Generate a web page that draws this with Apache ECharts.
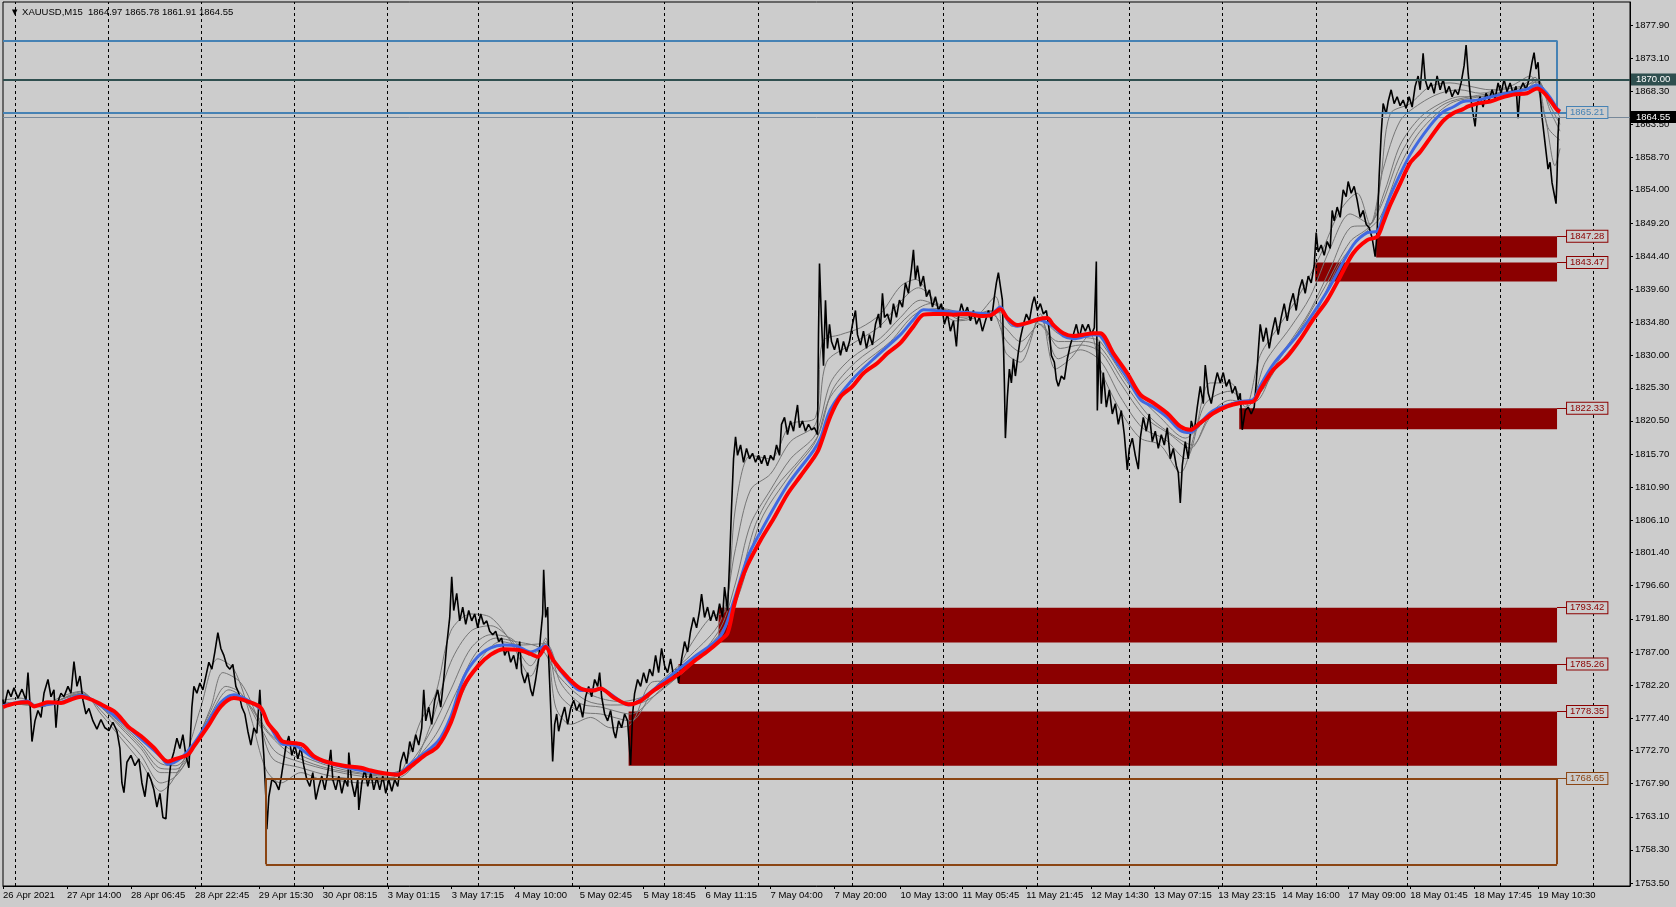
<!DOCTYPE html>
<html><head><meta charset="utf-8">
<script src="https://cdn.jsdelivr.net/npm/echarts@6/dist/echarts.min.js"></script>
<style>html,body{margin:0;padding:0;background:#cccccc;}#c{width:1676px;height:907px;}</style>
</head><body><div id="c"></div>
<script>
// ---------- data ----------
const titleText = 'XAUUSD,M15  1864.97 1865.78 1861.91 1864.55';
const priceTickLabels = ['1877.90','1873.10','1868.30','1863.50','1858.70','1854.00','1849.20','1844.40','1839.60','1834.80','1830.00','1825.30','1820.50','1815.70','1810.90','1806.10','1801.40','1796.60','1791.80','1787.00','1782.20','1777.40','1772.70','1767.90','1763.10','1758.30','1753.50'];
const timeLabels = ['26 Apr 2021','27 Apr 14:00','28 Apr 06:45','28 Apr 22:45','29 Apr 15:30','30 Apr 08:15','3 May 01:15','3 May 17:15','4 May 10:00','5 May 02:45','5 May 18:45','6 May 11:15','7 May 04:00','7 May 20:00','10 May 13:00','11 May 05:45','11 May 21:45','12 May 14:30','13 May 07:15','13 May 23:15','14 May 16:00','17 May 09:00','18 May 01:45','18 May 17:45','19 May 10:30'];
// bar index of each time label (1 bar = 15 min)
const timeLabelBars = [2,66,130,194,258,322,387,451,514,579,643,705,770,834,900,962,1026,1091,1154,1218,1282,1348,1410,1474,1538];
const daySeparatorBars = [14,107,200,293,386,478,572,664,758,852,943,1037,1129,1222,1316,1407,1500,1593];

// [bar, price]
const priceTrace = [[2,1780.1],[3,1779.0],[7,1781.5],[10,1780.5],[13,1781.8],[17,1780.3],[21,1781.6],[25,1780.0],[27,1784.0],[29,1779.5],[31,1774.0],[34,1777.0],[37,1778.5],[40,1777.5],[43,1781.0],[47,1783.0],[50,1780.5],[53,1781.5],[55,1776.0],[57,1779.8],[60,1781.0],[63,1780.5],[67,1782.0],[70,1781.0],[73,1785.6],[76,1782.0],[79,1783.5],[82,1780.0],[85,1778.0],[88,1778.8],[92,1777.0],[96,1775.8],[100,1777.2],[104,1776.0],[108,1775.6],[112,1776.8],[116,1775.5],[119,1773.0],[121,1768.0],[123,1766.6],[126,1771.0],[130,1772.0],[134,1770.5],[138,1771.5],[141,1768.0],[144,1766.0],[147,1769.5],[150,1768.5],[153,1767.0],[156,1764.5],[159,1766.5],[162,1763.0],[165,1762.8],[167,1767.0],[170,1771.0],[173,1772.5],[176,1774.5],[179,1773.0],[182,1775.0],[185,1772.0],[188,1770.2],[191,1779.0],[193,1782.0],[196,1781.0],[199,1782.5],[202,1781.5],[205,1783.5],[208,1785.5],[211,1784.5],[214,1787.0],[217,1789.8],[220,1787.5],[223,1786.5],[226,1785.0],[229,1784.5],[232,1785.2],[235,1782.0],[238,1781.0],[241,1779.0],[244,1778.0],[247,1775.5],[250,1773.5],[253,1776.0],[256,1775.2],[259,1781.5],[261,1776.0],[263,1772.0],[265,1766.0],[266,1761.3],[268,1766.0],[271,1768.5],[275,1768.0],[278,1767.0],[280,1768.5],
[283,1771.3],[285,1773.3],[288,1774.8],[291,1772.0],[294,1773.5],[297,1771.5],[300,1773.2],[303,1770.5],[306,1768.5],[309,1767.5],[312,1769.5],[315,1765.6],[318,1767.5],[321,1769.0],[324,1767.0],[327,1769.5],[330,1772.8],[332,1768.5],[335,1767.0],[338,1769.0],[341,1766.5],[344,1768.5],[347,1767.5],[348,1772.4],[351,1768.0],[354,1766.0],[357,1768.5],[358,1764.1],[361,1768.0],[364,1770.0],[367,1767.5],[370,1769.5],[373,1767.0],[376,1768.8],[379,1767.0],[382,1769.0],[385,1766.5],[388,1768.5],[391,1766.8],[394,1768.5],[397,1767.5],[400,1771.0],[403,1772.5],[406,1770.8],[409,1774.0],[412,1772.5],[415,1775.0],[418,1773.5],[421,1776.0],[423,1781.5],[425,1777.0],[428,1779.0],[431,1776.5],[434,1780.0],[437,1781.5],[440,1779.0],[443,1783.0],[446,1788.0],[449,1792.0],[451,1797.9],[453,1793.0],[456,1795.5],[459,1791.5],[462,1793.5],[465,1791.0],[468,1793.0],[471,1791.5],[474,1792.5],[477,1790.5],[480,1792.5],[483,1791.0],[486,1791.5],[489,1790.0],[492,1789.5],[495,1790.0],[498,1788.5],[501,1789.0],[504,1786.5],[507,1787.5],[510,1785.5],[513,1786.5],[516,1784.5],[519,1788.5],[521,1784.0],[524,1782.5],[527,1784.0],[530,1781.5],[532,1780.6],[535,1783.0],[538,1786.0],[540,1789.5],[542,1792.5],[543,1798.9],[545,1792.0],[547,1793.5],
[548,1786.0],[550,1779.0],[552,1771.1],[554,1776.5],[556,1778.0],[558,1775.5],[561,1777.5],[564,1779.0],[567,1776.5],[570,1778.8],[573,1780.0],[576,1778.5],[579,1779.5],[582,1777.5],[585,1780.5],[588,1782.0],[591,1780.5],[594,1783.0],[597,1782.0],[599,1784.0],[601,1780.5],[604,1778.0],[607,1777.0],[610,1778.5],[613,1775.5],[615,1774.5],[618,1777.0],[621,1776.0],[624,1778.0],[627,1777.0],[630,1770.6],[632,1778.0],[634,1781.0],[637,1783.0],[640,1782.0],[643,1784.0],[646,1782.5],[649,1784.5],[652,1783.5],[655,1786.5],[658,1784.0],[661,1787.5],[664,1785.0],[667,1784.0],[670,1786.0],[673,1783.5],[676,1784.5],[678,1782.5],[681,1786.0],[684,1788.5],[687,1787.0],[690,1790.0],[693,1792.0],[696,1790.5],[699,1793.0],[701,1795.4],[704,1792.0],[707,1793.5],[710,1791.5],[713,1793.0],[716,1791.5],[719,1794.0],[722,1792.0],[724,1796.4],[727,1793.0],[729,1800.0],[731,1808.0],[733,1815.0],[735,1818.2],[737,1815.5],[740,1817.0],[743,1814.5],[746,1816.5],[749,1815.0],[752,1815.8],[755,1814.5],[758,1815.5],[761,1814.3],[764,1815.5],[767,1814.0],[770,1815.5],[773,1814.8],[776,1817.0],[779,1815.5],[781,1820.0],[784,1821.0],[787,1818.5],[790,1820.5],[793,1819.0],[795,1821.0],[797,1822.8],[799,1819.5],[802,1820.5],[805,1819.0],[808,1820.0],[811,1819.2],[814,1819.5],[817,1818.5],[818,1833.0],[819,1843.3],[821,1835.0],[823,1828.5],[825,1838.0],
[827,1831.0],[829,1834.5],[831,1832.0],[834,1830.8],[837,1832.5],[840,1830.0],[843,1832.0],[846,1830.5],[849,1832.0],[852,1834.5],[855,1836.5],[857,1833.0],[860,1831.5],[863,1833.5],[866,1831.0],[869,1833.0],[872,1831.5],[875,1834.5],[878,1836.0],[880,1834.0],[882,1839.0],[884,1835.5],[887,1836.0],[890,1834.5],[893,1837.5],[896,1835.5],[899,1838.0],[902,1837.0],[905,1840.5],[908,1839.0],[911,1842.5],[913,1845.3],[915,1841.0],[917,1843.0],[920,1840.0],[923,1841.5],[926,1838.5],[929,1839.5],[932,1837.0],[935,1838.5],[938,1836.5],[941,1837.5],[944,1834.5],[947,1836.0],[950,1833.5],[953,1835.0],[956,1831.3],[958,1835.5],[961,1837.5],[964,1836.0],[967,1837.0],[970,1835.0],[973,1836.5],[976,1834.5],[979,1835.5],[982,1833.5],[985,1835.0],[988,1836.5],[991,1835.0],[994,1838.5],[996,1840.5],[998,1842.0],[1000,1840.0],[1002,1838.0],[1004,1826.0],[1005,1818.0],[1007,1824.0],[1009,1828.0],[1011,1826.0],[1013,1829.5],[1015,1827.0],[1018,1830.5],[1020,1832.5],[1023,1834.5],[1026,1836.0],[1029,1835.0],[1032,1837.5],[1034,1838.5],[1037,1836.5],[1040,1837.5],[1043,1836.0],[1046,1836.5],[1049,1833.5],[1051,1830.0],[1054,1829.0],[1056,1826.5],[1058,1825.5],[1061,1827.0],[1064,1826.5],[1067,1829.5],[1070,1831.5],[1073,1833.0],[1076,1834.5],[1079,1832.5],[1082,1834.5],[1085,1833.5],[1088,1834.5],[1091,1833.0],[1094,1834.0],[1096,1843.6],[1097,1822.0],[1099,1832.0],
[1101,1823.0],[1103,1827.5],[1106,1822.5],[1109,1825.0],[1112,1821.5],[1115,1823.0],[1118,1820.0],[1121,1822.0],[1124,1818.5],[1127,1813.4],[1129,1816.5],[1132,1818.0],[1135,1815.5],[1138,1813.5],[1140,1818.0],[1143,1821.0],[1146,1819.0],[1149,1821.5],[1152,1817.5],[1155,1819.0],[1158,1816.5],[1161,1818.5],[1164,1817.0],[1167,1819.5],[1170,1815.0],[1173,1816.5],[1176,1814.0],[1178,1813.0],[1180,1808.6],[1182,1814.0],[1185,1817.5],[1188,1815.0],[1191,1820.5],[1194,1819.0],[1197,1822.5],[1200,1825.5],[1203,1823.0],[1205,1828.6],[1208,1824.5],[1211,1823.0],[1214,1825.5],[1217,1827.5],[1220,1826.0],[1223,1827.5],[1226,1825.5],[1229,1826.5],[1232,1824.5],[1235,1825.5],[1238,1823.5],[1240,1824.5],[1242,1819.2],[1245,1822.0],[1248,1822.5],[1251,1821.5],[1254,1822.5],[1256,1826.0],[1258,1830.5],[1260,1834.5],[1263,1832.0],[1266,1834.0],[1269,1831.0],[1272,1833.5],[1275,1835.5],[1278,1833.0],[1281,1835.5],[1284,1837.5],[1287,1835.0],[1290,1837.5],[1293,1839.0],[1296,1836.5],[1299,1839.5],[1302,1841.0],[1305,1839.0],[1308,1841.5],[1311,1840.5],[1314,1843.0],[1316,1847.8],[1318,1845.0],[1321,1846.0],[1324,1844.5],[1327,1846.5],[1330,1845.5],[1332,1851.0],[1334,1849.5],[1337,1851.5],[1340,1850.0],[1343,1854.0],[1346,1853.0],[1348,1855.2],[1351,1853.5],[1354,1854.5],[1357,1852.5],[1360,1850.0],[1363,1851.0],[1366,1849.0],[1369,1848.5],[1372,1847.0],[1375,1844.3],[1377,1848.0],[1379,1856.0],[1381,1862.0],[1383,1866.5],[1386,1865.0],
[1388,1866.8],[1391,1868.5],[1394,1866.5],[1397,1867.5],[1400,1866.2],[1403,1867.0],[1406,1865.8],[1409,1867.5],[1412,1866.0],[1415,1869.0],[1418,1870.5],[1420,1868.5],[1423,1873.8],[1425,1870.0],[1428,1868.5],[1431,1869.5],[1434,1868.0],[1437,1870.5],[1440,1868.5],[1443,1870.0],[1446,1868.0],[1449,1869.0],[1452,1867.5],[1455,1868.5],[1458,1867.8],[1461,1869.5],[1464,1872.0],[1466,1875.0],[1468,1871.0],[1470,1868.0],[1473,1865.0],[1475,1863.2],[1477,1866.5],[1480,1867.5],[1483,1866.0],[1486,1868.0],[1489,1867.0],[1492,1868.5],[1495,1867.2],[1498,1869.5],[1501,1868.0],[1504,1870.0],[1507,1868.2],[1510,1869.5],[1513,1868.0],[1516,1869.0],[1518,1864.4],[1520,1868.5],[1523,1869.5],[1526,1868.5],[1529,1870.0],[1532,1872.5],[1534,1873.9],[1536,1871.5],[1538,1872.5],[1540,1868.0],[1542,1864.5],[1544,1862.0],[1546,1859.5],[1548,1857.0],[1550,1858.0],[1552,1855.0],[1554,1853.5],[1556,1852.0],[1557,1856.0],[1558,1862.0],[1559,1864.55]];

const redMA = [[2,1779.0],[13,1779.5],[27,1779.7],[33,1779.1],[40,1779.4],[47,1779.7],[60,1779.6],[70,1780.1],[80,1780.5],[90,1780.1],[100,1779.4],[113,1778.4],[120,1777.4],[127,1776.2],[140,1774.8],[153,1773.1],[167,1771.1],[173,1771.4],[187,1772.1],[193,1773.3],[207,1776.2],[220,1779.1],[233,1780.3],[247,1779.8],[260,1778.9],[267,1776.7],[275,1775.3],[282,1774.0],[293,1773.8],[302,1773.5],[313,1771.9],[327,1771.0],[343,1770.5],[360,1770.2],[370,1769.8],[383,1769.4],[397,1769.2],[410,1770.4],[423,1771.9],[437,1773.3],[450,1776.7],[463,1782.0],[477,1784.9],[490,1786.6],[503,1787.4],[517,1787.3],[530,1786.7],[537,1786.3],[545,1787.7],[553,1785.7],[567,1783.3],[580,1781.7],[593,1781.4],[600,1781.7],[613,1780.4],[628,1779.4],[640,1779.9],[653,1781.4],[667,1782.7],[680,1784.0],[693,1785.6],[707,1787.1],[720,1788.7],[727,1789.7],[733,1793.4],[740,1797.0],[747,1799.6],[760,1803.2],[773,1806.3],[787,1809.9],[800,1812.5],[813,1815.1],[818,1816.3],[830,1821.2],[840,1824.0],[852,1825.5],[863,1827.4],[877,1828.9],[887,1830.3],[900,1831.8],[913,1834.2],[923,1835.9],[933,1836.0],[943,1836.0],[953,1835.9],[967,1836.0],[980,1835.7],[990,1835.8],[1000,1836.7],[1007,1835.4],[1017,1834.4],[1027,1834.7],[1037,1835.2],[1047,1835.4],[1053,1834.4],[1063,1833.2],[1073,1832.8],[1083,1833.0],[1093,1833.2],[1100,1833.2],[1113,1830.3],[1127,1827.4],[1140,1824.3],[1153,1823.1],[1167,1821.6],[1180,1819.7],[1190,1819.2],[1200,1820.2],[1213,1821.6],[1227,1822.6],[1240,1823.1],[1253,1823.3],[1260,1825.0],[1273,1827.9],[1287,1829.8],[1300,1832.3],[1313,1835.2],[1327,1838.0],[1340,1841.4],[1353,1844.8],[1367,1846.7],[1377,1847.2],[1383,1849.2],[1390,1851.8],[1400,1854.9],[1410,1857.9],[1420,1859.5],[1430,1861.5],[1443,1864.0],[1453,1865.1],[1463,1865.7],[1468,1866.1],[1477,1866.5],[1490,1866.8],[1500,1867.3],[1513,1867.8],[1527,1868.0],[1537,1868.7],[1543,1868.2],[1550,1867.0],[1557,1865.6],[1560,1865.3]];

const blueMA = [[2,1779.2],[27,1779.9],[33,1779.2],[60,1779.7],[80,1780.7],[100,1779.2],[120,1777.0],[140,1774.4],[160,1771.8],[167,1770.7],[180,1771.6],[193,1773.7],[207,1776.8],[220,1779.7],[233,1780.8],[247,1780.0],[260,1778.6],[270,1776.0],[282,1773.6],[293,1773.5],[313,1771.6],[343,1770.3],[370,1769.6],[397,1769.3],[410,1770.8],[437,1774.0],[450,1777.6],[463,1783.3],[477,1786.3],[490,1787.6],[503,1788.0],[517,1787.8],[530,1787.0],[545,1787.9],[553,1785.7],[567,1783.0],[580,1781.4],[600,1781.6],[628,1779.3],[640,1780.1],[667,1783.2],[693,1786.2],[720,1789.3],[733,1794.3],[747,1800.7],[760,1804.4],[787,1811.2],[813,1816.2],[820,1818.0],[830,1822.2],[852,1826.5],[877,1830.0],[900,1833.0],[913,1835.2],[923,1836.6],[943,1836.4],[967,1836.2],[990,1836.0],[1000,1837.0],[1007,1835.2],[1017,1834.2],[1037,1835.2],[1053,1834.2],[1063,1832.8],[1073,1832.4],[1093,1833.0],[1100,1832.8],[1113,1829.7],[1127,1826.7],[1140,1823.6],[1153,1822.5],[1167,1821.0],[1180,1819.1],[1190,1818.8],[1200,1820.2],[1213,1822.0],[1240,1823.3],[1253,1823.6],[1260,1825.6],[1273,1828.7],[1300,1833.4],[1327,1839.3],[1353,1846.0],[1367,1847.8],[1377,1848.0],[1383,1850.3],[1390,1853.1],[1410,1859.1],[1430,1863.3],[1443,1865.3],[1453,1866.0],[1463,1866.8],[1477,1867.0],[1500,1867.8],[1527,1868.6],[1537,1869.2],[1543,1868.6],[1550,1867.4],[1557,1865.8],[1560,1865.5]];

// grey ribbon lines, outermost (nearest price) to innermost (nearest blue)
const grayRibbon1 = [[2,1780.0],[20,1780.3],[40,1779.0],[60,1780.5],[80,1781.3],[100,1778.0],[120,1774.5],[140,1771.0],[160,1766.8],[170,1768.0],[185,1772.0],[200,1779.0],[217,1786.0],[233,1784.5],[250,1777.5],[265,1770.0],[280,1768.0],[300,1769.5],[320,1768.5],[340,1768.3],[360,1768.0],[380,1768.2],[400,1769.5],[420,1777.0],[435,1781.0],[450,1790.0],[470,1792.5],[490,1792.0],[510,1788.5],[530,1783.5],[545,1789.0],[555,1779.0],[570,1776.5],[590,1777.5],[610,1776.0],[630,1776.5],[650,1782.5],[670,1783.0],[690,1788.0],[710,1792.0],[725,1793.0],[735,1808.0],[750,1815.5],[770,1815.0],[790,1820.0],[815,1821.0],[822,1832.0],[840,1833.0],[860,1834.0],[880,1836.0],[900,1840.0],[915,1841.0],[935,1837.5],[955,1835.0],[975,1835.5],[995,1838.5],[1005,1830.5],[1020,1829.0],[1040,1836.0],[1055,1828.0],[1070,1829.5],[1090,1833.0],[1100,1828.0],[1120,1822.0],[1140,1818.0],[1160,1817.0],[1180,1813.0],[1195,1819.0],[1210,1826.0],[1230,1826.0],[1245,1822.5],[1260,1830.0],[1280,1834.5],[1300,1839.0],[1320,1844.5],[1340,1851.0],[1357,1853.5],[1370,1849.0],[1380,1855.0],[1390,1865.0],[1410,1866.5],[1430,1869.0],[1450,1869.5],[1470,1869.0],[1490,1868.5],[1510,1869.0],[1530,1870.5],[1545,1864.5],[1555,1857.5],[1560,1860.0]];
const grayRibbon2 = [[2,1779.8],[40,1779.1],[80,1781.2],[100,1778.5],[120,1775.2],[140,1772.0],[160,1768.0],[175,1769.0],[190,1772.3],[210,1779.0],[222,1784.0],[240,1782.5],[258,1777.0],[272,1771.5],[300,1770.2],[330,1769.0],[360,1768.5],[390,1768.4],[410,1770.0],[430,1776.5],[450,1785.5],[470,1790.0],[490,1790.8],[510,1788.8],[530,1785.0],[545,1788.5],[558,1781.0],[580,1778.3],[600,1778.0],[630,1777.0],[655,1782.0],[690,1786.5],[720,1791.5],[735,1802.0],[750,1810.5],[770,1812.8],[790,1817.5],[815,1820.0],[826,1829.0],[850,1831.5],[880,1834.3],[900,1837.8],[918,1839.8],[940,1837.2],[960,1835.2],[990,1836.5],[1005,1832.3],[1020,1830.5],[1040,1835.3],[1058,1829.5],[1080,1830.8],[1100,1829.2],[1120,1824.0],[1142,1819.5],[1165,1817.8],[1185,1815.0],[1205,1823.0],[1230,1824.8],[1248,1822.7],[1265,1829.0],[1290,1834.0],[1310,1838.5],[1330,1845.5],[1350,1850.5],[1370,1849.0],[1383,1857.0],[1400,1864.0],[1420,1866.5],[1440,1868.0],[1460,1868.5],[1480,1868.0],[1500,1868.5],[1520,1869.0],[1535,1870.3],[1548,1863.0],[1560,1861.2]];
const grayRibbon3 = [[2,1779.6],[40,1779.3],[80,1781.0],[100,1779.0],[120,1776.0],[140,1773.0],[160,1769.5],[175,1769.5],[190,1772.5],[210,1778.5],[225,1782.0],[240,1781.0],[260,1776.0],[275,1772.5],[300,1771.0],[330,1769.8],[360,1769.0],[390,1768.8],[410,1771.0],[430,1775.5],[450,1781.5],[470,1787.5],[490,1789.5],[510,1789.0],[530,1786.5],[545,1788.0],[560,1782.5],[580,1779.5],[600,1779.0],[630,1778.0],[660,1781.5],[690,1785.0],[720,1790.5],[735,1797.0],[750,1805.5],[770,1810.5],[790,1815.0],[815,1818.5],[830,1826.0],[850,1829.5],[880,1832.5],[900,1835.5],[920,1838.0],[940,1837.0],[960,1835.5],[990,1836.0],[1005,1834.0],[1020,1832.0],[1040,1834.5],[1060,1831.0],[1080,1831.5],[1100,1830.5],[1120,1826.0],[1145,1821.0],[1170,1818.5],[1190,1816.5],[1210,1821.5],[1230,1823.5],[1250,1823.0],[1270,1828.0],[1290,1832.0],[1310,1836.5],[1330,1842.5],[1350,1848.5],[1370,1849.0],[1385,1854.0],[1400,1860.5],[1420,1864.5],[1440,1866.5],[1460,1867.5],[1480,1867.5],[1500,1868.0],[1520,1868.5],[1537,1870.0],[1550,1865.5],[1560,1862.5]];
const grayRibbon4 = [[2,1779.5],[40,1779.35],[80,1780.9],[100,1779.1],[120,1776.3],[140,1773.4],[160,1770.1],[175,1770.0],[190,1772.6],[210,1778.0],[228,1781.5],[245,1780.0],[265,1775.6],[290,1772.2],[320,1770.4],[350,1769.5],[385,1769.0],[410,1770.8],[435,1775.0],[455,1781.0],[475,1786.8],[495,1789.0],[515,1788.5],[540,1787.5],[558,1783.5],[585,1780.0],[610,1779.3],[640,1779.6],[670,1782.5],[700,1786.5],[725,1790.5],[740,1797.5],[755,1805.5],[775,1810.8],[800,1815.0],[818,1818.5],[832,1825.0],[855,1829.0],[885,1832.3],[910,1836.0],[930,1837.5],[950,1836.2],[975,1835.8],[1000,1836.2],[1012,1834.2],[1035,1834.8],[1058,1832.0],[1085,1832.0],[1100,1831.2],[1125,1825.8],[1150,1821.0],[1175,1818.2],[1192,1817.0],[1210,1821.0],[1235,1823.2],[1255,1823.3],[1275,1828.5],[1300,1833.8],[1325,1840.0],[1350,1846.5],[1368,1848.5],[1382,1852.0],[1400,1859.0],[1420,1863.5],[1445,1866.5],[1470,1867.5],[1500,1868.1],[1525,1868.5],[1537,1869.8],[1550,1866.2],[1560,1863.5]];
const grayRibbon5 = [[2,1779.4],[40,1779.4],[80,1780.8],[100,1779.2],[120,1776.6],[140,1773.8],[160,1770.8],[175,1770.5],[190,1772.8],[210,1777.5],[230,1780.8],[250,1779.0],[270,1775.0],[300,1772.0],[340,1770.0],[380,1769.2],[410,1770.5],[440,1774.5],[460,1780.5],[480,1786.0],[500,1788.5],[520,1788.0],[545,1788.2],[560,1784.0],[590,1780.8],[620,1779.8],[650,1781.0],[690,1785.5],[720,1789.8],[740,1796.0],[760,1806.0],[790,1812.8],[815,1817.5],[830,1824.0],[860,1828.5],[890,1832.0],[915,1836.0],[940,1836.8],[970,1836.0],[1000,1836.5],[1015,1834.5],[1040,1835.0],[1060,1833.0],[1090,1832.5],[1100,1832.0],[1130,1825.5],[1160,1821.0],[1185,1818.0],[1205,1820.5],[1230,1823.0],[1255,1823.8],[1280,1829.0],[1310,1834.5],[1340,1843.5],[1365,1847.8],[1380,1850.0],[1400,1857.5],[1420,1862.5],[1450,1866.5],[1480,1867.5],[1510,1868.3],[1537,1869.6],[1550,1867.0],[1560,1864.5]];
const grayRibbons = [grayRibbon1, grayRibbon2, grayRibbon3, grayRibbon4, grayRibbon5];

// demand zones (filled) : start bar, end bar, top price, bottom price
const zoneStart = [1376,1315,1239,718,678,628];
const zoneEnd = [1557,1557,1557,1557,1557,1557];
const zoneTop = [1847.28,1843.47,1822.33,1793.42,1785.26,1778.35];
const zoneBottom = [1844.18,1840.70,1819.30,1788.38,1782.35,1770.51];
// outline boxes: [start, end, top, bottom]
const brownBox = [265,1557,1768.65,1756.2];
const blueBox = [2,1557,1875.63,1865.21];
const levelPrice = 1870.00;
const bidPrice = 1864.55;
const priceTickValues = priceTickLabels.map(parseFloat);

// ---------- chart ----------
const FONT = '"Liberation Sans", Arial, sans-serif';
const BG = '#cccccc';
const RED_ZONE = '#8b0000', BROWN = '#8b4513', STEEL = '#4682b4';
const chart = echarts.init(document.getElementById('c'), null, {renderer:'canvas', width:1676, height:907});

function boxLines(b, color, withLeft) {
  const [x1, x2, top, bot] = b;
  const ls = {color: color, width: 2, type: 'solid'};
  const arr = [
    [{coord:[x1, top], lineStyle: ls}, {coord:[x2, top]}],
    [{coord:[x1, bot], lineStyle: ls}, {coord:[x2, bot]}],
    [{coord:[x2, top], lineStyle: ls}, {coord:[x2, bot]}]
  ];
  if (withLeft) arr.push([{coord:[x1, top], lineStyle: ls}, {coord:[x1, bot]}]);
  return arr;
}
function tag(x, price, color, lineW) {
  return [{coord:[x, price], lineStyle:{color: color, width: lineW, type:'solid'},
    label:{show:true, position:'end', distance:0, formatter: price.toFixed(2), color: color,
      fontFamily: FONT, fontSize: 9.5, backgroundColor: BG, borderColor: color, borderWidth: 1,
      padding:[1,3,0,3], lineHeight: 10}},
    {coord:[x + 10, price]}];
}

const tagLines = [];
zoneTop.forEach((t, i) => tagLines.push(tag(zoneEnd[i], t, RED_ZONE, 1)));
tagLines.push(tag(brownBox[1], brownBox[2], BROWN, 1));
tagLines.push(tag(blueBox[1], blueBox[3], STEEL, 2));

const graySeries = grayRibbons.map(d => ({type: 'line', data: d, showSymbol: false, silent: true, z: 3,
  lineStyle: {color: '#767676', width: 1}, smooth: 0.3}));

const option = {
  animation: false,
  backgroundColor: BG,
  title: {text: '\u25BC ' + titleText, left: 5, top: 2,
    textStyle: {fontSize: 9.5, fontWeight: 'normal', fontFamily: FONT, color: '#000'}},
  grid: {left: 2, right: 46, top: 2, bottom: 21, show: true, borderColor: '#000', borderWidth: 1, backgroundColor: 'transparent'},
  xAxis: {type: 'value', min: 2, max: 1630,
    axisLine: {show: true, lineStyle: {color: '#000', width: 1}},
    splitLine: {show: false},
    axisTick: {show: true, customValues: timeLabelBars, length: 3, inside: false, lineStyle: {color: '#000'}},
    axisLabel: {customValues: timeLabelBars, formatter: v => timeLabels[timeLabelBars.indexOf(v)] || '',
      align: 'left', margin: 4, fontSize: 9.5, color: '#000', fontFamily: FONT}},
  yAxis: {type: 'value', position: 'right', min: 1753.06, max: 1881.23,
    axisLine: {show: true, lineStyle: {color: '#000', width: 1}},
    splitLine: {show: false},
    axisTick: {show: true, customValues: priceTickValues, length: 3, lineStyle: {color: '#000'}},
    axisLabel: {customValues: priceTickValues, formatter: v => v.toFixed(2), margin: 5,
      fontSize: 9.5, color: '#000', fontFamily: FONT}},
  series: [
    {type: 'line', data: [], silent: true, z: 1,
      markLine: {silent: true, symbol: 'none', animation: false, label: {show: false},
        lineStyle: {color: '#000', type: [3, 3], width: 1},
        data: daySeparatorBars.map(b => ({xAxis: b}))}},
    {type: 'line', data: [], silent: true, z: 2,
      markArea: {silent: true, animation: false, label: {show: false},
        itemStyle: {color: RED_ZONE, opacity: 1, borderWidth: 0},
        data: zoneStart.map((s, i) => [{coord: [s, zoneTop[i]]}, {coord: [zoneEnd[i], zoneBottom[i]]}])}}
  ].concat(graySeries, [
    {type: 'line', data: priceTrace, showSymbol: false, silent: true, z: 4, lineStyle: {color: '#000', width: 1.6}},
    {type: 'line', data: blueMA, showSymbol: false, silent: true, z: 5, lineStyle: {color: '#4169e1', width: 3}, smooth: 0.3},
    {type: 'line', data: redMA, showSymbol: false, silent: true, z: 6, lineStyle: {color: '#ff0000', width: 4}, smooth: 0.3},
    {type: 'line', data: [], silent: true, z: 7,
      markLine: {silent: true, symbol: 'none', animation: false, label: {show: false},
        data: [].concat(boxLines(brownBox, BROWN, true), boxLines(blueBox, STEEL, false), tagLines)}},
    {type: 'line', data: [], silent: true, z: 8,
      markLine: {silent: true, symbol: 'none', animation: false,
        data: [
          {yAxis: levelPrice, lineStyle: {color: '#2f4f4f', width: 2, type: 'solid'},
            label: {show: true, position: 'end', distance: 1, formatter: levelPrice.toFixed(2), color: '#fff',
              backgroundColor: '#2f4f4f', padding: [1, 6, 1, 5], fontFamily: FONT, fontSize: 9.5}},
          {yAxis: bidPrice, lineStyle: {color: '#778899', width: 1, type: 'solid'},
            label: {show: true, position: 'end', distance: 1, formatter: bidPrice.toFixed(2), color: '#fff',
              backgroundColor: '#000', padding: [1, 6, 1, 5], fontFamily: FONT, fontSize: 9.5}}
        ]}}
  ])
};
chart.setOption(option);
</script>
</body></html>
